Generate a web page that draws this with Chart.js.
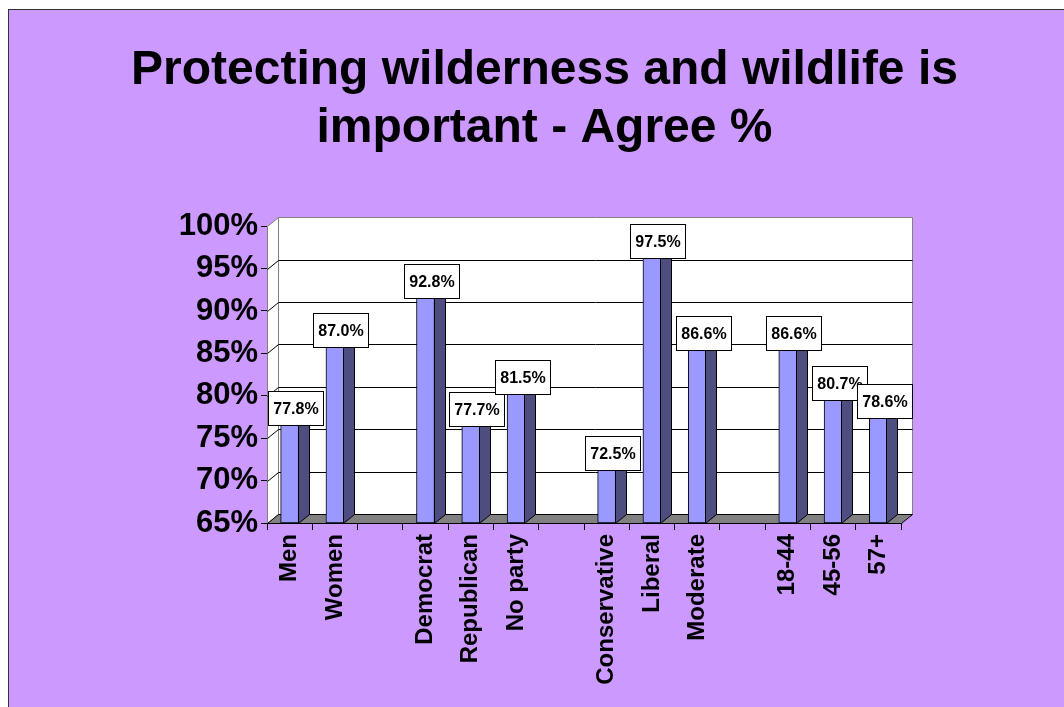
<!DOCTYPE html>
<html>
<head>
<meta charset="utf-8">
<script src="https://cdn.jsdelivr.net/npm/chart.js@4.4.0/dist/chart.umd.min.js"></script>
<style>
    html, body { margin: 0; padding: 0; background: #fff; }
    canvas { display: block; }
</style>
</head>
<body>
<canvas id="chart" width="1064" height="707"></canvas>
<script>
// 数据
const categories = ['Men', 'Women', '', 'Democrat', 'Republican', 'No party', '', 'Conservative', 'Liberal', 'Moderate', '', '18-44', '45-56', '57+'];
const agreeValues = [77.8, 87.0, null, 92.8, 77.7, 81.5, null, 72.5, 97.5, 86.6, null, 86.6, 80.7, 78.6];
const axisMin = 65;
const axisMax = 100;
const axisStep = 5;
const titleLines = ['Protecting wilderness and wildlife is', 'important - Agree %'];

const FONT = '"Liberation Sans", Arial, Helvetica, sans-serif';
const DX = 11, DY = 9; // 3D depth
// bars sit a little lower than the front axis in the 3D view
const barShift = 1.24;

function poly(ctx, pts, fill, stroke) {
    ctx.beginPath();
    ctx.moveTo(pts[0][0], pts[0][1]);
    for (let i = 1; i < pts.length; i++) ctx.lineTo(pts[i][0], pts[i][1]);
    ctx.closePath();
    if (fill) { ctx.fillStyle = fill; ctx.fill(); }
    if (stroke) { ctx.strokeStyle = stroke; ctx.lineWidth = 1; ctx.stroke(); }
}

// 背景
const slidePlugin = {
    id: 'slide',
    beforeDraw(chart) {
        const ctx = chart.ctx;
        ctx.save();
        ctx.fillStyle = '#fff';
        ctx.fillRect(0, 0, chart.width, chart.height);
        ctx.fillStyle = '#cc99ff';
        ctx.fillRect(8, 9, chart.width, chart.height);
        ctx.strokeStyle = '#333';
        ctx.lineWidth = 1;
        ctx.strokeRect(8.5, 9.5, chart.width + 10, chart.height + 10);
        ctx.restore();
    }
};

// 墙和地板
const wallsPlugin = {
    id: 'walls',
    beforeDatasetsDraw(chart) {
        const ctx = chart.ctx;
        const a = chart.chartArea;
        const L = Math.round(a.left) + 0.5, R = Math.round(a.right) + 0.5;
        const T = Math.round(a.top) + 0.5, B = Math.round(a.bottom) + 0.5;
        const y = chart.scales.y;
        ctx.save();
        // back wall
        poly(ctx, [[L + DX, T - DY], [R + DX, T - DY], [R + DX, B - DY], [L + DX, B - DY]], '#fff', '#808080');
        // left wall
        poly(ctx, [[L, B], [L + DX, B - DY], [L + DX, T - DY], [L, T]], '#fff', '#808080');
        // gridlines
        ctx.strokeStyle = '#000';
        ctx.lineWidth = 1;
        y.ticks.forEach(t => {
            if (t.value <= axisMin || t.value >= axisMax) return;
            const py = Math.round(y.getPixelForValue(t.value)) + 0.5;
            ctx.beginPath();
            ctx.moveTo(L, py);
            ctx.lineTo(L + DX, py - DY);
            ctx.lineTo(R + DX, py - DY);
            ctx.stroke();
        });
        // floor
        poly(ctx, [[L, B], [R, B], [R + DX, B - DY], [L + DX, B - DY]], '#808080', '#000');
        ctx.restore();
    },
    afterDatasetsDraw(chart) {
        const ctx = chart.ctx;
        const meta = chart.getDatasetMeta(0);
        const bottom = Math.round(chart.chartArea.bottom) + 0.5;
        ctx.save();
        meta.data.forEach((bar, i) => {
            if (agreeValues[i] == null) return;
            const p = bar.getProps(['x', 'y', 'width'], true);
            const x1 = Math.round(p.x - p.width / 2) + 0.5, x2 = Math.round(p.x + p.width / 2) - 0.5;
            const top = Math.round(p.y) + 0.5;
            poly(ctx, [[x1, top], [x1 + DX, top - DY], [x2 + DX, top - DY], [x2, top]], '#7a7acc', '#000');
            poly(ctx, [[x2, top], [x2 + DX, top - DY], [x2 + DX, bottom - DY], [x2, bottom]], '#4d4d80', '#000');
        });
        // 数据标签
        ctx.font = 'bold 16px ' + FONT;
        ctx.textAlign = 'center';
        ctx.textBaseline = 'middle';
        meta.data.forEach((bar, i) => {
            if (agreeValues[i] == null) return;
            const text = agreeValues[i].toFixed(1) + '%';
            const w = Math.round(ctx.measureText(text).width + 10);
            const h = 34;
            const cx = Math.round(bar.x + DX / 2);
            const bx = Math.round(cx - w / 2) + 0.5, by = Math.round(bar.y - h) + 0.5;
            ctx.fillStyle = '#fff';
            ctx.fillRect(bx, by, w, h);
            ctx.strokeStyle = '#000';
            ctx.lineWidth = 1;
            ctx.strokeRect(bx, by, w, h);
            ctx.fillStyle = '#000';
            ctx.fillText(text, bx + w / 2, by + h / 2 + 1);
        });
        ctx.restore();
    }
};

new Chart(document.getElementById('chart'), {
    type: 'bar',
    data: {
        labels: categories,
        datasets: [{
            data: agreeValues,
            yAxisID: 'yb',
            base: axisMin + barShift,
            backgroundColor: '#9999ff',
            borderColor: '#000',
            borderWidth: 1,
            borderSkipped: false,
            barThickness: 18
        }]
    },
    options: {
        responsive: false,
        animation: false,
        layout: { padding: { left: 25, top: 0, right: 0, bottom: 0 } },
        plugins: {
            legend: { display: false },
            tooltip: { enabled: false },
            title: {
                display: true,
                text: titleLines,
                color: '#000',
                font: { family: FONT, size: 48, weight: 'bold', lineHeight: 1.21 },
                padding: { top: 42, bottom: 68 }
            }
        },
        scales: {
            x: {
                offset: true,
                grid: { offset: true, drawOnChartArea: false, tickLength: 7, color: '#000' },
                border: { display: false },
                ticks: {
                    color: '#000',
                    font: { family: FONT, size: 24, weight: 'bold' },
                    minRotation: 90,
                    maxRotation: 90,
                    autoSkip: false,
                    padding: 4
                },
                afterFit: s => { s.height = 184; }
            },
            y: {
                min: axisMin,
                max: axisMax,
                ticks: {
                    stepSize: axisStep,
                    callback: v => v + '%',
                    color: '#000',
                    font: { family: FONT, size: 31, weight: 'bold' },
                    padding: 3
                },
                grid: { drawOnChartArea: false, tickLength: 6, color: '#000' },
                border: { display: false },
                afterFit: s => { s.width = 242; }
            },
            yb: {
                position: 'right',
                min: axisMin + barShift,
                max: axisMax + barShift,
                ticks: { display: false },
                grid: { display: false },
                border: { display: false },
                afterFit: s => { s.width = 163; }
            }
        }
    },
    plugins: [slidePlugin, wallsPlugin]
});
</script>
</body>
</html>
